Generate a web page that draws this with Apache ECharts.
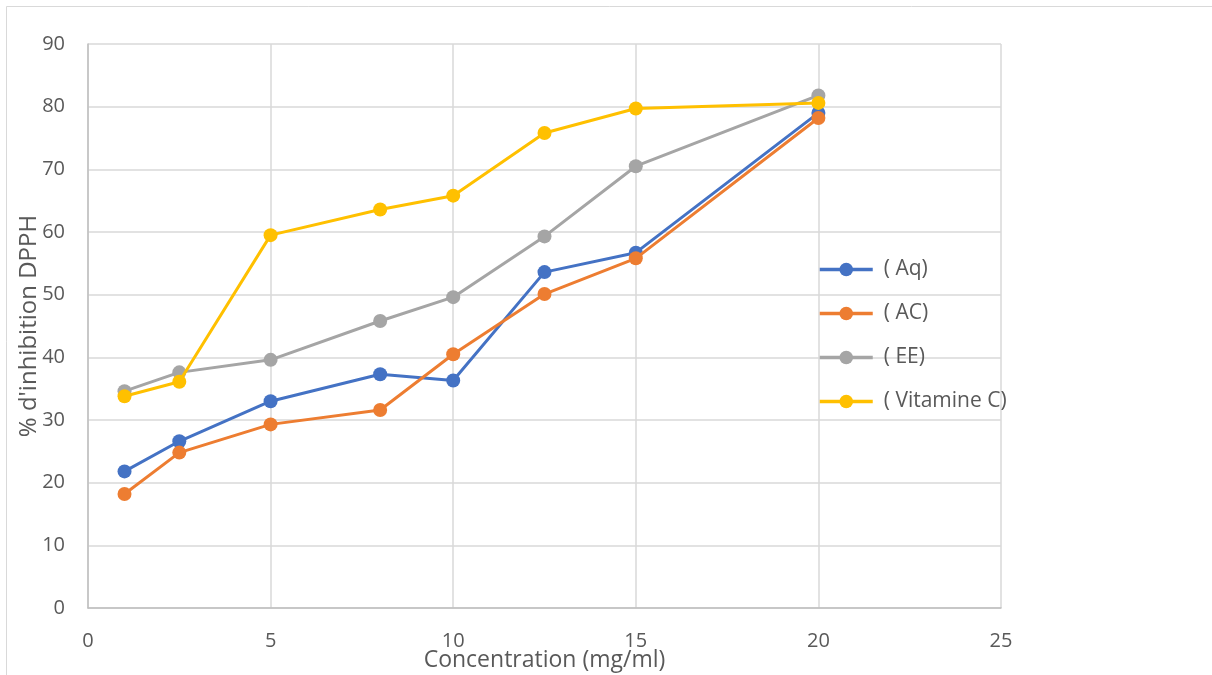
<!DOCTYPE html>
<html>
<head>
<meta charset="utf-8">
<script src="https://cdn.jsdelivr.net/npm/echarts@6/dist/echarts.min.js"></script>
<style>
  html, body { margin: 0; padding: 0; background: #fff; }
  #chart { width: 1212px; height: 675px; }
</style>
</head>
<body>
<div id="chart"></div>
<script>
// Concentrations (mg/ml)
const concentrations = [1, 2.5, 5, 8, 10, 12.5, 15, 20];
// % inhibition of DPPH per extract
const aq = [21.8, 26.6, 33.0, 37.3, 36.3, 53.6, 56.7, 79.0];
const ac = [18.2, 24.8, 29.3, 31.6, 40.5, 50.1, 55.8, 78.2];
const ee = [34.6, 37.6, 39.6, 45.8, 49.6, 59.3, 70.5, 81.8];
const vitC = [33.8, 36.1, 59.5, 63.6, 65.8, 75.8, 79.7, 80.6];
const seriesNames = ['( Aq)', '( AC)', '( EE)', '( Vitamine C)'];
const seriesColors = ['#4472C4', '#ED7D31', '#A5A5A5', '#FFC000'];

const font = 'Open Sans, Liberation Sans, sans-serif';
const textColor = '#595959';

const pairs = arr => concentrations.map((x, i) => [x, arr[i]]);
const allData = [aq, ac, ee, vitC];

const chart = echarts.init(document.getElementById('chart'), null, { renderer: 'canvas' });
chart.setOption({
  animation: false,
  backgroundColor: '#fff',
  textStyle: { fontFamily: font },
  graphic: [{
    type: 'rect',
    shape: { x: 6.5, y: 6.5, width: 1220, height: 700 },
    style: { fill: 'none', stroke: '#d9d9d9', lineWidth: 1 },
    silent: true
  }],
  grid: {
    left: 88, top: 44, width: 913, height: 564,
    containLabel: false, outerBoundsMode: 'none'
  },
  xAxis: {
    type: 'value', min: 0, max: 25, interval: 5,
    name: 'Concentration (mg/ml)', nameLocation: 'middle', nameGap: 41,
    nameMoveOverlap: false,
    nameTextStyle: { color: textColor, fontSize: 23, fontFamily: font },
    axisLine: { show: true, lineStyle: { color: '#bfbfbf', width: 1.5 } },
    axisTick: { show: false },
    axisLabel: { color: textColor, fontSize: 20, margin: 23, fontFamily: font },
    splitLine: { show: true, lineStyle: { color: '#d9d9d9', width: 1.5 } }
  },
  yAxis: {
    type: 'value', min: 0, max: 90, interval: 10,
    name: "% d'inhibition DPPH", nameLocation: 'middle', nameGap: 47,
    nameMoveOverlap: false,
    nameTextStyle: { color: textColor, fontSize: 24, fontFamily: font },
    axisLine: { show: true, lineStyle: { color: '#bfbfbf', width: 1.5 } },
    axisTick: { show: false },
    axisLabel: { color: textColor, fontSize: 20, margin: 23, fontFamily: font },
    splitLine: { show: true, lineStyle: { color: '#d9d9d9', width: 1.5 } }
  },
  legend: {
    orient: 'vertical', left: 813, top: 254, itemGap: 23,
    itemWidth: 53, itemHeight: 17,
    lineStyle: { width: 3.5 },
    textStyle: { color: textColor, fontSize: 21, fontFamily: font, padding: [0, 0, 0, 6] },
    data: seriesNames
  },
  series: allData.map((arr, i) => ({
    name: seriesNames[i],
    type: 'line',
    data: pairs(arr),
    color: seriesColors[i],
    symbol: 'circle', symbolSize: 14,
    lineStyle: { width: 3, color: seriesColors[i] },
    itemStyle: { color: seriesColors[i] },
    z: 2 + i
  }))
});
</script>
</body>
</html>
